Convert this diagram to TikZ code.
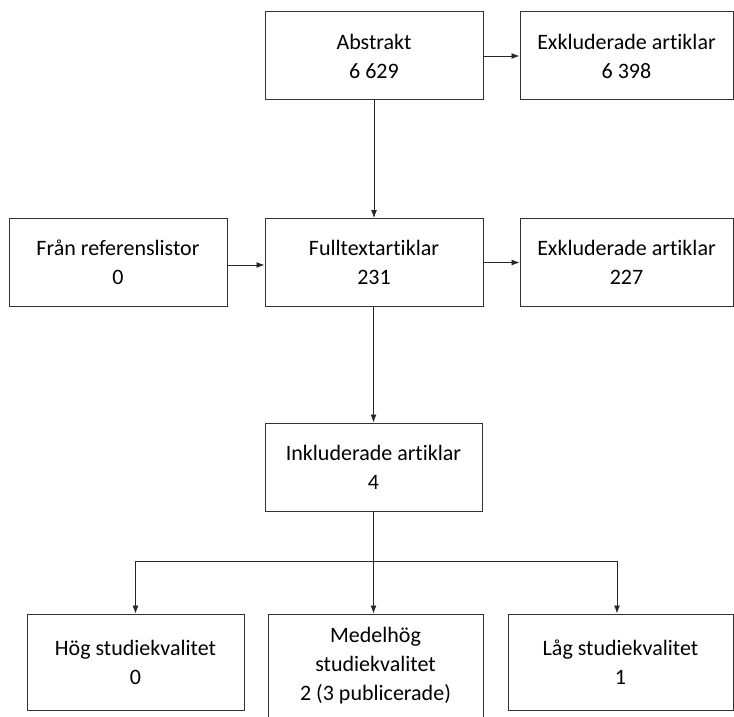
\documentclass[tikz,border=0pt]{standalone}
\usepackage{fontspec}
\setmainfont[Ligatures=NoCommon]{Carlito}
\usepackage{tikz}
\usetikzlibrary{arrows.meta, positioning}

\begin{document}
\begin{tikzpicture}[x=1pt, y=-1pt, every node/.style={draw=black!80, line width=1pt, align=center, font=\fontsize{22}{29}\selectfont, inner sep=0pt}]

\tikzstyle{box}=[minimum width=218pt, minimum height=88pt]
\tikzstyle{arrow}=[-{Latex[length=8pt, width=6pt]}, draw=black!85, line width=0.9pt]

\useasboundingbox (0,0) rectangle (734,717);

% first row
\node (abstrakt) [box] at (374,56) {Abstrakt\\6 629};
\node (exkl1) [box, minimum width=213pt] at (626.5,56) {Exkluderade artiklar\\6 398};

% second row
\node (referens) [box] at (118,262.5) {Från referenslistor\\0};
\node (fulltext) [box] at (374,262.5) {Fulltextartiklar\\231};
\node (exkl2) [box, minimum width=213pt] at (626.5,262.5) {Exkluderade artiklar\\227};

% included
\node (inkl) [box, minimum width=217pt] at (373.5,467) {Inkluderade artiklar\\4};

% quality
\node (hog) [box, minimum width=217pt, minimum height=96pt] at (135.5,662) {Hög studiekvalitet\\0};
\node (medel) [box, minimum width=215pt, minimum height=104pt] at (375.5,666) {Medelhög\\studiekvalitet\\2 (3 publicerade)};
\node (lag) [box, minimum width=225pt, minimum height=96pt] at (620.5,662) {Låg studiekvalitet\\1};

\coordinate (branch) at (inkl.south |- 0,561);

\draw [arrow] (abstrakt.east) -- (exkl1.west);
\draw [arrow] (abstrakt.south) -- (fulltext.north);
\draw [arrow] (referens.east |- 0,265) -- (fulltext.west |- 0,265);
\draw [arrow] (fulltext.east) -- (exkl2.west);
\draw [arrow] (fulltext.south -| inkl.north) -- (inkl.north);

\draw [arrow] (inkl.south) -- (inkl.south |- medel.north);
\draw [arrow] (branch) -| (hog.north);
\draw [arrow] (branch) -| (617,0 |- lag.north);

\end{tikzpicture}
\end{document}
